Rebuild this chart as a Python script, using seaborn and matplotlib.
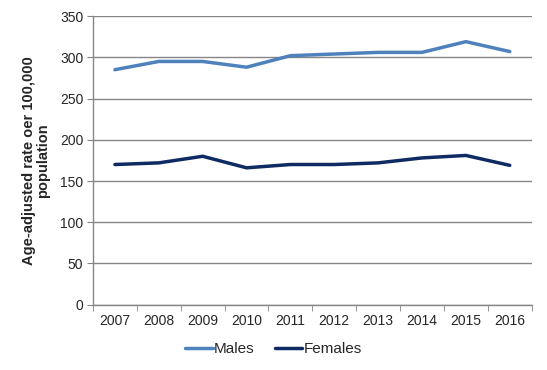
import seaborn as sns
import matplotlib.pyplot as plt
import pandas as pd

years = ['2007', '2008', '2009', '2010', '2011', '2012', '2013', '2014', '2015', '2016']
males = [285, 295, 295, 288, 302, 304, 306, 306, 319, 307]
females = [170, 172, 180, 166, 170, 170, 172, 178, 181, 169]
series = ['Males', 'Females']
colors = ['#4F81BD', '#0F2B63']

df = pd.DataFrame({
    'pos': list(range(len(years))) * 2,
    'rate': males + females,
    'sex': ['Males'] * len(years) + ['Females'] * len(years),
})

sns.set_style('white')
plt.rcParams['font.family'] = ['Liberation Sans', 'DejaVu Sans']

fig = plt.figure(figsize=(5.47, 3.70), dpi=100)
ax = fig.add_axes([0.170, 0.1765, 0.802, 0.78])

sns.lineplot(data=df, x='pos', y='rate', hue='sex', hue_order=series,
             palette=colors, linewidth=2.5, ax=ax, legend=False)

ax.set_ylim(0, 350)
ax.set_xlim(-0.5, len(years) - 0.5)
ax.set_yticks(range(0, 351, 50))
ax.set_xticks(range(len(years)))
ax.set_xticklabels(years)
ax.set_xticks([i - 0.5 for i in range(len(years) + 1)], minor=True)
ax.yaxis.grid(True, color='#868686', linewidth=1)
ax.set_axisbelow(True)
for s in ['top', 'right']:
    ax.spines[s].set_visible(False)
for s in ['left', 'bottom']:
    ax.spines[s].set_color('#868686')
    ax.spines[s].set_linewidth(1)
ax.tick_params(axis='y', which='major', length=4, color='#868686', direction='out',
               left=True, labelsize=10, pad=3)
ax.tick_params(axis='x', which='major', length=0, labelsize=10, pad=7)
ax.tick_params(axis='x', which='minor', length=4, color='#868686', direction='out', bottom=True)
ax.set_xlabel('')
ax.set_ylabel('Age-adjusted rate oer 100,000\npopulation', fontsize=10.5, fontweight='bold',
              linespacing=1.0, labelpad=7)

handles = [plt.Line2D([], [], color=c, linewidth=2.5) for c in colors]
fig.legend(handles, series, loc='center', bbox_to_anchor=(0.5, 0.057), ncol=2,
           frameon=False, fontsize=11, handlelength=1.8, handletextpad=0.1,
           columnspacing=1.3)

fig.savefig('out.png', dpi=100)
